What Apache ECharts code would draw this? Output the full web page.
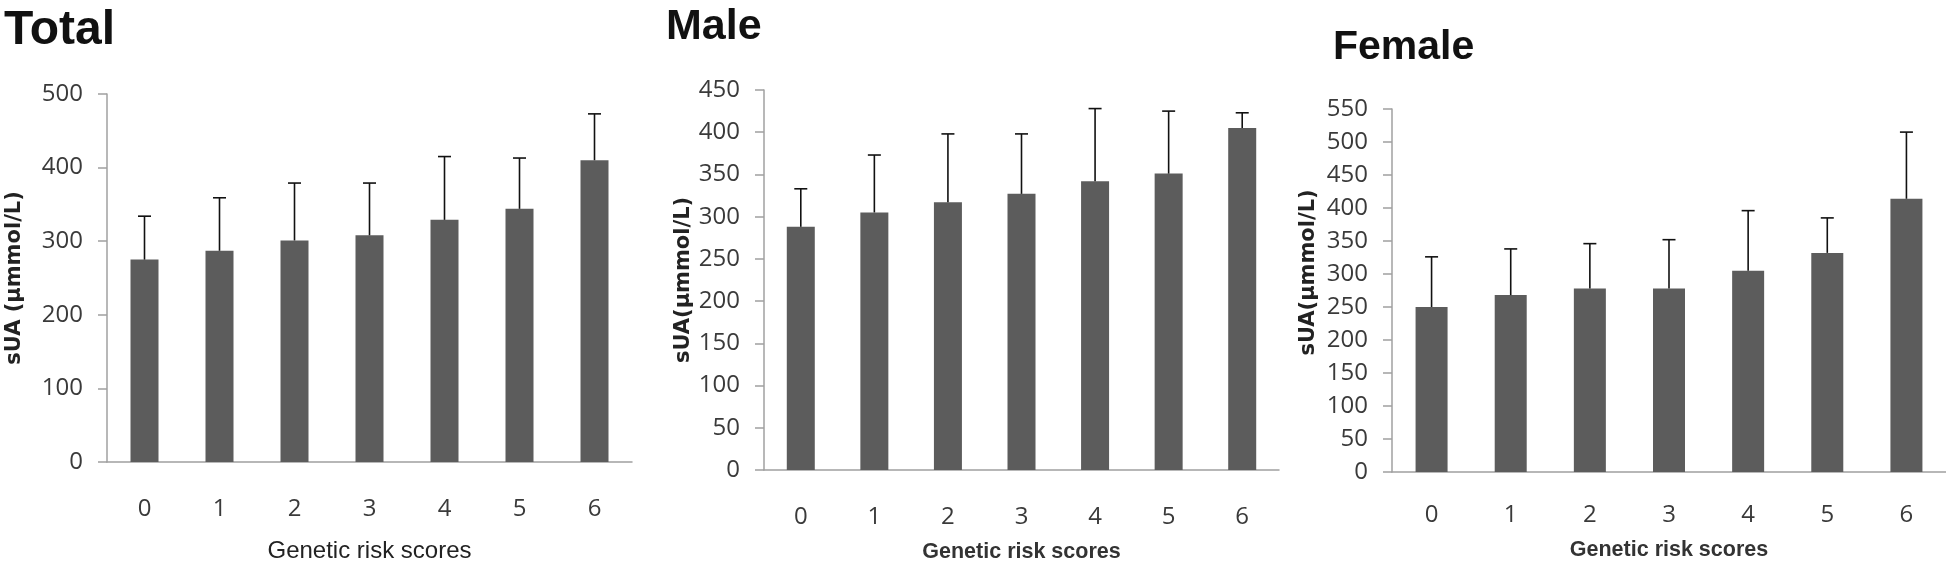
<!DOCTYPE html>
<html>
<head>
<meta charset="utf-8">
<script src="https://cdn.jsdelivr.net/npm/echarts@6/dist/echarts.min.js"></script>
<style>
html,body{margin:0;padding:0;background:#fff;}
#chart{width:1946px;height:568px;}
</style>
</head>
<body>
<div id="chart"></div>
<script>
const categories = ['0', '1', '2', '3', '4', '5', '6'];
const panelTitles = ['Total', 'Male', 'Female'];
const yAxisNames = ['sUA (\u03bcmmol/L)', 'sUA(\u03bcmmol/L)', 'sUA(\u03bcmmol/L)'];
const xAxisName = 'Genetic risk scores';

const totalMean = [275, 287, 301, 308, 329, 344, 410];
const totalSD   = [59, 72, 78, 71, 86, 69, 63];
const maleMean  = [288, 305, 317, 327, 342, 351, 405];
const maleSD    = [45, 68, 81, 71, 86, 74, 18];
const femaleMean = [250, 268, 278, 278, 305, 332, 414];
const femaleSD   = [76, 70, 68, 74, 91, 53, 101];

const yMax = [500, 450, 550];
const yInterval = [100, 50, 50];

const means = [totalMean, maleMean, femaleMean];
const sds = [totalSD, maleSD, femaleSD];

const grids = [
  {left: 107, top: 94, width: 525, height: 374},
  {left: 764, top: 90, width: 515, height: 382},
  {left: 1392, top: 109, width: 560, height: 363}
];
const barWidths = [28, 28, 32];
const titleStyle = [
  {left: 4, top: 7, size: 48},
  {left: 666, top: 6, size: 43},
  {left: 1333, top: 27, size: 41}
];
const yNameGap = [82, 70, 73];
const yNamePad = [[0,0,0,0],[0,0,0,0],[0,0,0,36]];
const xNameGap = [77, 71, 67];
const xNameStyle = [
  {fontFamily: 'Liberation Sans', fontSize: 24, fontWeight: 'normal', color: '#222'},
  {fontFamily: 'Liberation Sans', fontSize: 21.5, fontWeight: 'bold', color: '#333'},
  {fontFamily: 'Liberation Sans', fontSize: 21.5, fontWeight: 'bold', color: '#333'}
];
const xLabelMargin = [35, 35, 31];

const axisGrey = '#a0a0a0';
const labelColor = '#3a3a3a';

function errorRender(params, api) {
  const x = api.value(0), m = api.value(1), s = api.value(2);
  const p0 = api.coord([x, m]);
  const p1 = api.coord([x, m + s]);
  const hw = 6.5;
  const st = {stroke: '#111', lineWidth: 1.6};
  return {
    type: 'group',
    children: [
      {type: 'line', shape: {x1: p0[0], y1: p0[1], x2: p1[0], y2: p1[1]}, style: st},
      {type: 'line', shape: {x1: p1[0] - hw, y1: p1[1], x2: p1[0] + hw, y2: p1[1]}, style: st}
    ]
  };
}

const option = {
  backgroundColor: '#fff',
  animation: false,
  title: panelTitles.map((t, i) => ({
    text: t, left: titleStyle[i].left, top: titleStyle[i].top, padding: 0,
    textStyle: {fontFamily: 'Liberation Sans', fontSize: titleStyle[i].size, fontWeight: 'bold', color: '#111'}
  })),
  grid: grids,
  xAxis: grids.map((g, i) => ({
    type: 'category', gridIndex: i, data: categories,
    name: xAxisName, nameLocation: 'middle', nameGap: xNameGap[i],
    nameTextStyle: xNameStyle[i],
    axisLine: {lineStyle: {color: axisGrey, width: 1.5}},
    axisTick: {show: false},
    axisLabel: {margin: xLabelMargin[i], fontFamily: 'Open Sans', fontSize: 24, color: labelColor}
  })),
  yAxis: grids.map((g, i) => ({
    type: 'value', gridIndex: i, min: 0, max: yMax[i], interval: yInterval[i],
    name: yAxisNames[i], nameLocation: 'middle', nameGap: yNameGap[i], nameRotate: 90,
    nameTextStyle: {fontFamily: 'DejaVu Sans', fontSize: 21, fontWeight: 'bold', color: '#222', padding: yNamePad[i]},
    axisLine: {show: true, lineStyle: {color: axisGrey, width: 1.5}},
    axisTick: {show: true, inside: false, length: 9, lineStyle: {color: axisGrey, width: 1.5}},
    splitLine: {show: false},
    axisLabel: {margin: 24, fontFamily: 'Open Sans', fontSize: 24, color: labelColor}
  })),
  series: [].concat(...grids.map((g, i) => ([
    {
      type: 'bar', xAxisIndex: i, yAxisIndex: i, barWidth: barWidths[i],
      data: means[i], itemStyle: {color: '#5c5c5c'}, z: 2
    },
    {
      type: 'custom', xAxisIndex: i, yAxisIndex: i, renderItem: errorRender,
      encode: {x: 0, y: 1},
      data: categories.map((c, k) => [k, means[i][k], sds[i][k]]), z: 3
    }
  ])))
};

const chart = echarts.init(document.getElementById('chart'), null, {renderer: 'canvas'});
chart.setOption(option);
</script>
</body>
</html>
